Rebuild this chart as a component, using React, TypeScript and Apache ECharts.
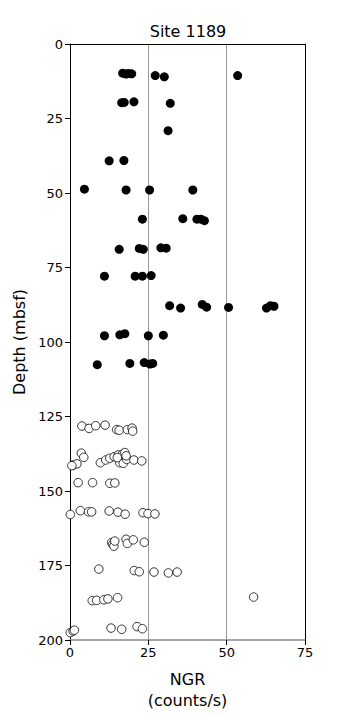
import React, { useEffect, useRef } from "react";
import * as echarts from "echarts";

// filled circles: [NGR, depth]
const upperNGR = [16.8, 17.9, 18.6, 19.7, 27.2, 30.1, 53.5,
  16.5, 17.3, 20.4, 32.0,
  31.3,
  12.5, 17.2,
  4.6, 17.9, 25.4, 39.2,
  23.1, 36.0, 40.5, 41.8, 42.9,
  15.7, 22.1, 23.4, 29.0, 30.7,
  11.0, 20.8, 23.1, 25.9,
  31.8, 35.3, 42.2, 43.6, 50.6, 62.7, 64.0, 65.1,
  11.0, 15.9, 17.5, 25.0, 29.8,
  8.7, 19.1, 23.7, 25.5, 26.4];
const upperDepth = [9.8, 10.1, 9.9, 10.0, 10.6, 11.0, 10.6,
  19.7, 19.6, 19.4, 19.9,
  29.1,
  39.2, 39.1,
  48.7, 49.0, 49.0, 49.0,
  58.8, 58.6, 58.8, 58.8, 59.3,
  68.9, 68.6, 68.9, 68.4, 68.5,
  77.9, 77.9, 77.9, 77.7,
  87.8, 88.6, 87.4, 88.3, 88.4, 88.6, 87.8, 88.0,
  97.9, 97.6, 97.2, 97.9, 97.7,
  107.6, 107.2, 106.9, 107.4, 107.2];

// open circles: [NGR, depth]
const lowerNGR = [3.8, 6.1, 8.2, 11.2, 14.9, 15.7, 18.3, 19.8, 20.0,
  1.0, 2.2, 3.6, 4.4, 9.7, 11.4, 12.7, 14.1, 15.4, 16.8, 17.5, 15.9, 17.0, 18.1, 20.4, 22.9, 15.1, 17.9, 0.6,
  2.6, 7.2, 12.7, 14.3,
  0.1, 3.3, 5.9, 6.9, 12.5, 15.3, 17.6, 23.3, 24.9, 27.1,
  13.3, 13.6, 14.0, 14.3, 17.9, 18.3, 20.2, 23.7,
  9.2, 20.5, 22.1, 26.8, 31.4, 34.2,
  7.1, 8.5, 10.8, 12.1, 15.2, 58.6,
  0.1, 1.0, 1.4, 13.1, 16.5, 21.4, 23.1];
const lowerDepth = [128.2, 129.0, 128.1, 127.9, 129.4, 129.6, 129.4, 128.9, 129.9,
  141.3, 140.9, 137.3, 138.7, 140.5, 139.6, 139.0, 138.5, 137.9, 137.6, 137.1, 140.5, 140.7, 139.4, 139.6, 139.9, 138.8, 138.2, 141.5,
  147.2, 147.2, 147.4, 147.3,
  157.9, 156.6, 157.0, 157.0, 156.7, 157.1, 157.8, 157.3, 157.6, 157.7,
  167.3, 167.9, 168.5, 166.8, 166.2, 167.6, 166.4, 167.2,
  176.2, 176.7, 177.1, 177.2, 177.5, 177.2,
  186.8, 186.7, 186.5, 186.2, 185.8, 185.6,
  197.5, 197.0, 196.7, 196.0, 196.4, 195.5, 196.2];

const xTicks = [0, 25, 50, 75];
const yTicks = [0, 25, 50, 75, 100, 125, 150, 175, 200];

const FONT = "DejaVu Sans, Liberation Sans, sans-serif";

export default function App() {
  const ref = useRef<HTMLDivElement>(null);
  useEffect(() => {
    if (!ref.current) return;
    const chart = echarts.init(ref.current, null, { renderer: "svg" });
    const upper = upperNGR.map((v, i) => [v, upperDepth[i]]);
    const lower = lowerNGR.map((v, i) => [v, lowerDepth[i]]);
    chart.setOption({
      animation: false,
      title: {
        text: "Site 1189",
        left: 183,
        textAlign: "center",
        top: 18,
        textStyle: { fontFamily: FONT, fontSize: 16, fontWeight: "normal", color: "#000" },
      },
      grid: { left: 70, right: 40, top: 44, bottom: 77 },
      xAxis: [
        {
          type: "value",
          min: xTicks[0],
          max: xTicks[xTicks.length - 1],
          interval: 25,
          position: "bottom",
          axisLine: { show: true, onZero: false, lineStyle: { color: "#888", width: 1.5 } },
          axisTick: { show: true, length: 5, lineStyle: { color: "#000" } },
          axisLabel: { fontFamily: FONT, fontSize: 13, color: "#000", margin: 6 },
          splitLine: { show: true, lineStyle: { color: "#999", width: 1 } },
          name: "NGR\n(counts/s)",
          nameLocation: "middle",
          nameGap: 29,
          nameTextStyle: { fontFamily: FONT, fontSize: 16, color: "#000", lineHeight: 21 },
        },
        {
          type: "value",
          min: 0,
          max: 75,
          interval: 25,
          position: "top",
          axisLine: { show: true, onZero: false, lineStyle: { color: "#000", width: 1 } },
          axisTick: { show: false },
          axisLabel: { show: false },
          splitLine: { show: false },
        },
      ],
      yAxis: [
        {
          type: "value",
          inverse: true,
          min: yTicks[0],
          max: yTicks[yTicks.length - 1],
          interval: 25,
          position: "left",
          axisLine: { show: true, onZero: false, lineStyle: { color: "#000", width: 1 } },
          axisTick: { show: true, length: 5, lineStyle: { color: "#000" } },
          axisLabel: { fontFamily: FONT, fontSize: 13, color: "#000", margin: 7 },
          splitLine: { show: false },
          name: "Depth (mbsf)",
          nameLocation: "middle",
          nameGap: 40,
          nameRotate: 90,
          nameTextStyle: { fontFamily: FONT, fontSize: 16, color: "#000" },
        },
        {
          type: "value",
          inverse: true,
          min: 0,
          max: 200,
          interval: 25,
          position: "right",
          axisLine: { show: true, onZero: false, lineStyle: { color: "#000", width: 1 } },
          axisTick: { show: false },
          axisLabel: { show: false },
          splitLine: { show: false },
        },
      ],
      series: [
        {
          type: "scatter",
          data: upper,
          symbol: "circle",
          symbolSize: 9,
          itemStyle: { color: "#000", opacity: 1 },
        },
        {
          type: "scatter",
          data: lower,
          symbol: "circle",
          symbolSize: 8.5,
          itemStyle: { color: "#fff", borderColor: "#000", borderWidth: 0.8, opacity: 1 },
        },
      ],
    });
    return () => chart.dispose();
  }, []);
  return <div ref={ref} style={{ width: 345, height: 717, position: "absolute", left: 0, top: 0 }} />;
}
